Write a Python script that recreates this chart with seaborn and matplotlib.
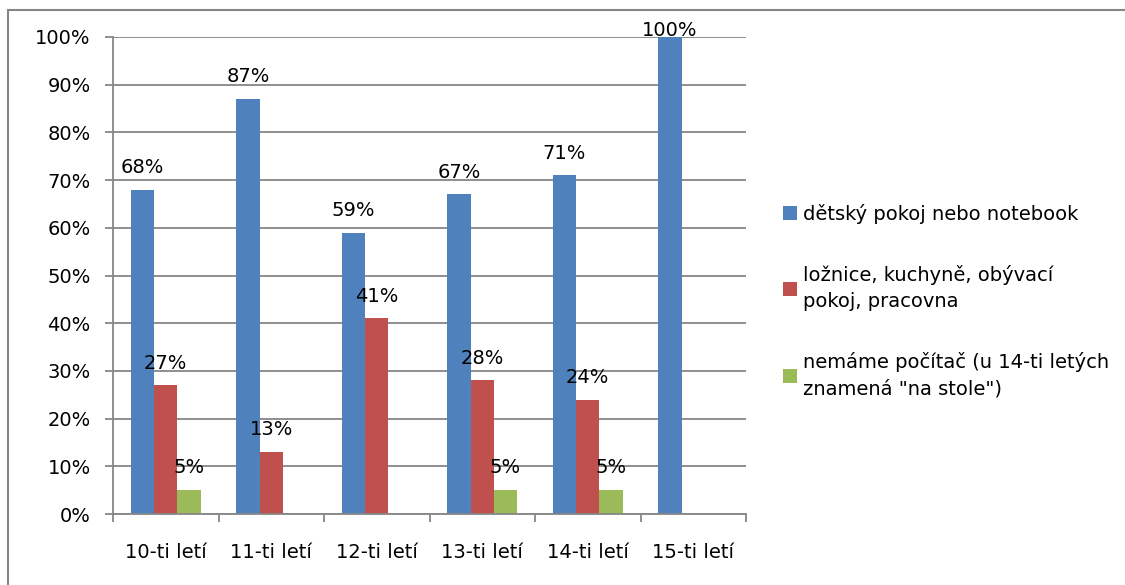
import pandas as pd
import seaborn as sns
import matplotlib.pyplot as plt
from matplotlib.patches import Rectangle, Patch
from matplotlib.ticker import FixedLocator, FuncFormatter

# kategorie a hodnoty (v procentech)
skupiny = ['10-ti letí', '11-ti letí', '12-ti letí', '13-ti letí', '14-ti letí', '15-ti letí']
serie = ['dětský pokoj nebo notebook',
         'ložnice, kuchyně, obývací\npokoj, pracovna',
         'nemáme počítač (u 14-ti letých\nznamená "na stole")']
detsky_pokoj = [68, 87, 59, 67, 71, 100]
ostatni_mistnosti = [27, 13, 41, 28, 24, 0]
nemame_pocitac = [5, 0, 0, 5, 5, 0]
barvy = ['#4F81BD', '#C0504D', '#9BBB59']

df = pd.DataFrame({
    'skupina': skupiny * 3,
    'serie': [serie[0]] * 6 + [serie[1]] * 6 + [serie[2]] * 6,
    'hodnota': detsky_pokoj + ostatni_mistnosti + nemame_pocitac,
})

sns.set_style('white')
plt.rcParams['font.family'] = ['DejaVu Sans']

fig = plt.figure(figsize=(11.25, 5.85), dpi=100)
ax = fig.add_axes([113 / 1125, 1 - 514 / 585, 633 / 1125, 477 / 585])

sns.barplot(data=df, x='skupina', y='hodnota', hue='serie', palette=barvy,
            width=0.66, saturation=1, ax=ax, legend=False, edgecolor='none')

# popisky nad sloupci
for cont in ax.containers:
    for p in cont.patches:
        h = p.get_height()
        if h <= 0:
            continue
        off = 12 if h < 100 else 1
        ax.annotate(f'{int(round(h))}%', (p.get_x() + p.get_width() / 2, h),
                    xytext=(0, off), textcoords='offset points',
                    ha='center', va='baseline', fontsize=14, color='black',
                    annotation_clip=False)

gray = '#868686'
ax.set_ylim(0, 100)
ax.set_xlim(-0.5, 5.5)
ax.set_yticks(range(0, 101, 10))
ax.yaxis.set_major_formatter(FuncFormatter(lambda v, _: f'{int(v)}%'))
ax.grid(axis='y', color=gray, linewidth=1.3)
ax.set_axisbelow(True)
ax.set_xlabel('')
ax.set_ylabel('')

for s in ['top', 'right']:
    ax.spines[s].set_visible(False)
for s in ['left', 'bottom']:
    ax.spines[s].set_color(gray)
    ax.spines[s].set_linewidth(1.3)

ax.tick_params(axis='y', which='major', length=6, width=1.3, color=gray,
               direction='out', left=True, pad=10, labelsize=14, labelcolor='black')
ax.xaxis.set_minor_locator(FixedLocator([i - 0.5 for i in range(7)]))
ax.tick_params(axis='x', which='minor', length=6, width=1.3, color=gray,
               direction='out', bottom=True)
ax.tick_params(axis='x', which='major', length=0, pad=21, labelsize=14,
               labelcolor='black')

# legenda
handles = [Patch(facecolor=c, edgecolor='none') for c in barvy]
leg = fig.legend(handles, serie, loc='upper left',
                 bbox_to_anchor=(783 / 1125, 1 - 204 / 585), frameon=False,
                 fontsize=14, handlelength=0.72, handleheight=0.72,
                 handletextpad=0.3, labelspacing=2.1, borderpad=0,
                 borderaxespad=0)
for t in leg.get_texts():
    t.set_linespacing(1.5)
    t.set_color('black')

# ramecek grafu
fig.add_artist(Rectangle((8 / 1125, -0.1), 1.2, 1 - 10 / 585 + 0.1,
                         transform=fig.transFigure, fill=False,
                         edgecolor=gray, linewidth=1.5))

fig.savefig('out.png', dpi=100)
